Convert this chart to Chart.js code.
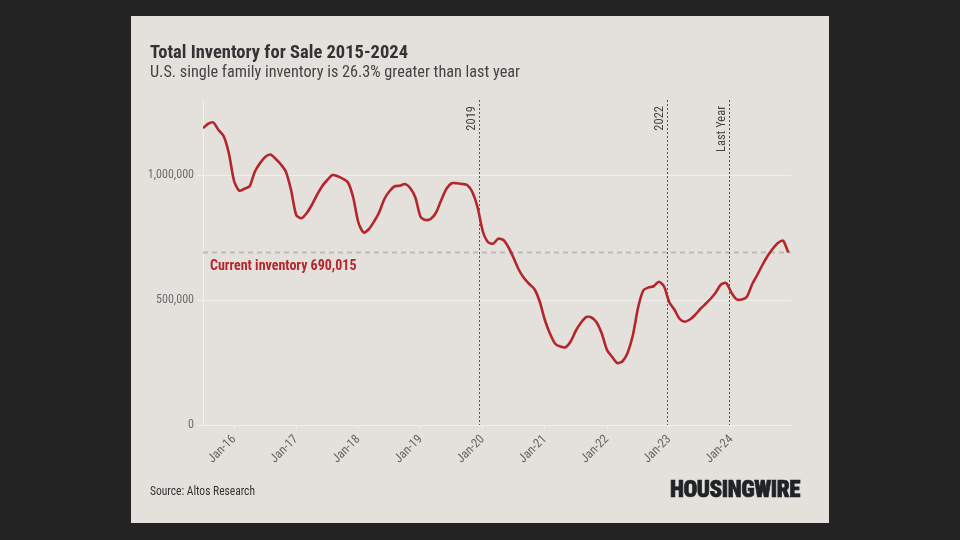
<!DOCTYPE html>
<html><head><meta charset="utf-8">
<script src="https://cdn.jsdelivr.net/npm/chart.js@4.4.1/dist/chart.umd.min.js"></script>
<style>
html,body{margin:0;padding:0;background:#232323;width:960px;height:540px;overflow:hidden}
#card{position:absolute;left:131px;top:16px;width:698px;height:507px;background:#e4e1dd}
#cv{position:absolute;left:0;top:0}
.t{position:absolute;white-space:nowrap;transform-origin:0 0;margin:0}
#title{left:19px;top:27.3px;font-size:18px;line-height:18px;font-weight:700;color:#333333}
#subtitle{left:19px;top:47.5px;font-size:16px;line-height:16px;font-weight:400;color:#444444}
#source{left:19px;top:469px;font-size:12px;line-height:12px;color:#333333}
#logo{left:539px;top:461px;font-size:24px;line-height:24px;font-weight:900;color:#1f2326;letter-spacing:-0.5px;-webkit-text-stroke:0.7px #1f2326}
</style>
</head><body>
<div id="card">
  <canvas id="cv" width="698" height="507"></canvas>
  <div class="t" id="title">Total Inventory for Sale 2015-2024</div>
  <div class="t" id="subtitle">U.S. single family inventory is 26.3% greater than last year</div>
  <div class="t" id="source">Source: Altos Research</div>
  <div class="t" id="logo">HOUSINGWIRE</div>
</div>
<script>
// ---- data (monthly readings, first value = July 2015) ----
const startYear = 2015;
const startMonth = 7;
const inventory = [
1187000,1205000,1210000,1180000,1155000,1086000,976000,937000,945000,955000,
1013000,1047000,1072000,1082000,1065000,1043000,1013000,940000,840000,827000,
847000,880000,920000,955000,980000,1000000,995000,985000,970000,910000,
810000,770000,783000,813000,850000,903000,935000,955000,957000,964000,
948000,910000,833000,820000,825000,850000,900000,945000,967000,967000,
964000,960000,932000,872000,776000,732000,725000,745000,740000,710000,
667000,620000,587000,564000,543000,494000,420000,365000,325000,314000,
311000,335000,378000,410000,432000,430000,410000,365000,300000,272000,
248000,255000,290000,360000,470000,538000,550000,555000,573000,555000,
492000,462000,425000,413000,422000,440000,464000,484000,505000,530000,
562000,568000,530000,503000,502000,513000,562000,600000,640000,676000,
705000,728000,737000,690015];
const xTickYears = [2016,2017,2018,2019,2020,2021,2022,2023,2024];
const yTickValues = [0,500000,1000000];
const markerDates = [2019.94, 2022.957, 2023.958];
const markerLabels = ['2019','2022','Last Year'];
const currentInventory = 690015;
const currentLabel = 'Current inventory 690,015';

// ---- font selection ----
function hasFont(name){
  const c=document.createElement('canvas').getContext('2d');
  const s='abcdefghijklmnopqrstuvwxyzABCDEFGHIJ0123456789';
  c.font='40px monospace'; const w1=c.measureText(s).width;
  c.font='40px "'+name+'", monospace'; const w2=c.measureText(s).width;
  c.font='40px serif'; const w3=c.measureText(s).width;
  c.font='40px "'+name+'", serif'; const w4=c.measureText(s).width;
  return w1!==w2 || w3!==w4;
}
const candidates=['Roboto Condensed','Liberation Sans Narrow','DejaVu Sans Condensed','Roboto'];
let FAM='Roboto';
for(const f of candidates){ if(hasFont(f)){FAM=f;break;} }
const FONT='"'+FAM+'", Roboto, sans-serif';
document.querySelectorAll('.t').forEach(e=>e.style.fontFamily=FONT);

function fit(id,w){
  const e=document.getElementById(id);
  const r=e.getBoundingClientRect().width;
  if(r>0) e.style.transform='scaleX('+(w/r)+')';
}
fit('title',258); fit('subtitle',370); fit('source',105); fit('logo',130);

// ---- chart ----
const points = inventory.map((v,i)=>({x:startYear+(startMonth-1)/12+i/12, y:v}));
const gridColor='#f2f0ed';
const red='#b3262c';

const overlay={
  id:'overlay',
  beforeDatasetsDraw(chart){
    const ctx=chart.ctx, a=chart.chartArea, xs=chart.scales.x, ys=chart.scales.y;
    ctx.save();
    const yc=ys.getPixelForValue(currentInventory);
    ctx.strokeStyle='#bdbab6'; ctx.lineWidth=2; ctx.setLineDash([5,4]);
    ctx.beginPath(); ctx.moveTo(a.left,yc); ctx.lineTo(a.right,yc); ctx.stroke();
    ctx.strokeStyle='#555555'; ctx.lineWidth=1; ctx.setLineDash([2,2]);
    markerDates.forEach((d,i)=>{
      const x=Math.round(xs.getPixelForValue(d))+0.5;
      ctx.beginPath(); ctx.moveTo(x,a.top); ctx.lineTo(x,a.bottom); ctx.stroke();
      ctx.save();
      ctx.translate(x-5,a.top+6); ctx.rotate(-Math.PI/2);
      ctx.setLineDash([]);
      ctx.fillStyle='#444444'; ctx.font='12.5px '+FONT;
      ctx.textAlign='right'; ctx.textBaseline='alphabetic';
      ctx.fillText(markerLabels[i],0,0);
      ctx.restore();
    });
    ctx.setLineDash([]);
    ctx.fillStyle=red; ctx.font='bold 14px '+FONT;
    ctx.textAlign='left'; ctx.textBaseline='alphabetic';
    ctx.fillText(currentLabel,a.left+7,yc+17.5);
    ctx.restore();
  }
};

new Chart(document.getElementById('cv'),{
  type:'line',
  data:{datasets:[{data:points,borderColor:red,borderWidth:2.6,pointRadius:0,tension:0.25,fill:false}]},
  options:{
    responsive:false,animation:false,
    layout:{padding:{left:0,top:84,right:38,bottom:0}},
    plugins:{legend:{display:false},tooltip:{enabled:false},title:{display:false}},
    scales:{
      x:{type:'linear',min:2015.5,max:2024.96,
        afterBuildTicks:s=>{s.ticks=xTickYears.map(v=>({value:v}));},
        afterFit:s=>{s.height=98;},
        grid:{drawOnChartArea:false,drawTicks:true,tickLength:4,color:gridColor},
        border:{display:true,color:gridColor},
        ticks:{autoSkip:false,maxRotation:45,minRotation:45,padding:3,color:'#666666',
          font:{family:FONT,size:12.5},
          callback:v=>'Jan-'+String(v).slice(2)}
      },
      y:{min:0,max:1300000,
        afterBuildTicks:s=>{s.ticks=yTickValues.map(v=>({value:v}));},
        afterFit:s=>{s.width=72;},
        grid:{color:gridColor,tickLength:6,lineWidth:1},
        border:{display:true,color:gridColor},
        ticks:{padding:3,color:'#6e6e6e',font:{family:FONT,size:12},
          callback:v=>Number(v).toLocaleString('en-US')}
      }
    }
  },
  plugins:[overlay]
});
</script>
</body></html>
